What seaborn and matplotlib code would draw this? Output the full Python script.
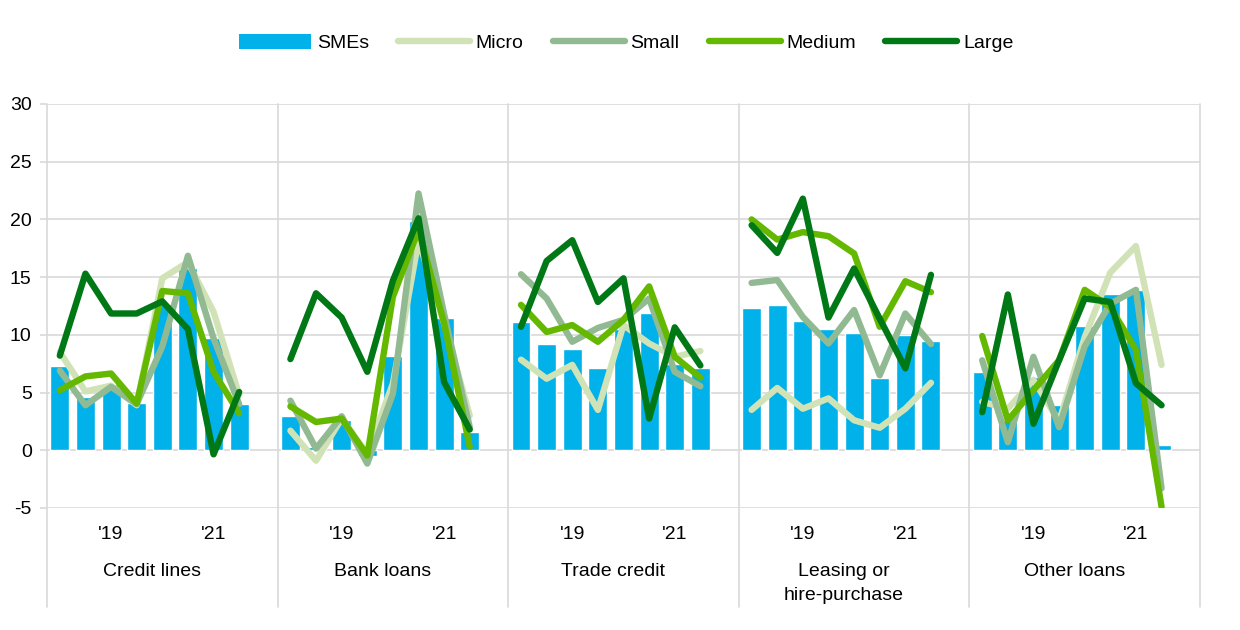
import numpy as np
import pandas as pd
import matplotlib
matplotlib.use("Agg")
import matplotlib.pyplot as plt
import seaborn as sns
from matplotlib.patches import Patch
from matplotlib.lines import Line2D
from matplotlib.transforms import blended_transform_factory

# ---------------- data ----------------
panels = ["Credit lines", "Bank loans", "Trade credit", "Leasing or\nhire-purchase", "Other loans"]
period_labels = ["", "", "'19", "", "", "", "'21", ""]
sizes = ["Micro", "Small", "Medium", "Large"]

smes = [
    [7.3, 4.6, 5.7, 4.1, 12.7, 15.75, 9.7, 4.05],
    [2.95, 0.3, 2.65, -0.5, 8.15, 19.9, 11.5, 1.6],
    [11.1, 9.25, 8.75, 7.15, 10.5, 11.9, 7.5, 7.1],
    [12.35, 12.6, 11.2, 10.5, 10.2, 6.3, 10.0, 9.45],
    [6.75, 2.6, 6.35, 3.9, 10.75, 13.5, 13.9, 0.5],
]
micro = [
    [8.5, 5.1, 5.6, 3.9, 14.9, 16.3, 12.0, 4.8],
    [1.7, -0.9, 2.75, -0.3, 5.8, 18.2, 11.0, 3.0],
    [7.85, 6.2, 7.4, 3.5, 10.85, 9.25, 8.1, 8.6],
    [3.5, 5.4, 3.6, 4.5, 2.6, 1.95, 3.6, 5.85],
    [4.2, 3.6, 6.1, 2.5, 9.8, 15.4, 17.7, 7.4],
]
small = [
    [6.9, 3.9, 5.5, 4.0, 9.0, 16.85, 9.7, 4.0],
    [4.3, 0.15, 2.95, -1.15, 4.9, 22.25, 11.8, 2.0],
    [15.25, 13.15, 9.4, 10.6, 11.3, 13.15, 6.8, 5.55],
    [14.5, 14.75, 11.55, 9.25, 12.15, 6.5, 11.85, 9.2],
    [7.8, 0.7, 8.1, 2.0, 9.0, 12.7, 13.9, -3.3],
]
medium = [
    [5.2, 6.4, 6.65, 4.05, 13.8, 13.6, 6.8, 3.2],
    [3.8, 2.45, 2.75, -0.45, 13.3, 19.1, 11.0, 0.3],
    [12.6, 10.25, 10.85, 9.4, 11.3, 14.2, 8.1, 6.3],
    [20.0, 18.25, 18.9, 18.55, 17.05, 10.7, 14.65, 13.7],
    [9.9, 2.6, 5.2, 7.8, 13.9, 12.4, 8.7, -4.9],
]
large = [
    [8.2, 15.3, 11.85, 11.85, 12.9, 10.5, -0.35, 5.05],
    [7.9, 13.6, 11.5, 6.8, 14.7, 20.1, 5.9, 1.8],
    [10.7, 16.4, 18.2, 12.85, 14.9, 2.75, 10.65, 7.35],
    [19.5, 17.1, 21.8, 11.5, 15.75, 11.4, 7.1, 15.2],
    [3.3, 13.5, 2.3, 7.8, 13.15, 12.85, 5.8, 3.9],
]

colors = {"SMEs": "#00B1EA", "Micro": "#D1E3B6", "Small": "#92BA92",
          "Medium": "#65B800", "Large": "#007816"}

# ---------------- build frames ----------------
n_per = len(period_labels)
slot = n_per + 1
bar_rows, line_rows = [], []
series = {"Micro": micro, "Small": small, "Medium": medium, "Large": large}
for g in range(len(panels)):
    for i in range(n_per):
        pos = g * slot + i + 0.5
        bar_rows.append({"pos": pos, "SMEs": smes[g][i]})
        for s in sizes:
            line_rows.append({"pos": pos, "value": series[s][g][i], "size": s, "panel": g})
bars_df = pd.DataFrame(bar_rows)
lines_df = pd.DataFrame(line_rows)

# ---------------- plot ----------------
sns.set_theme(style="white")
plt.rcParams["font.family"] = ["Liberation Sans", "DejaVu Sans"]
plt.rcParams["text.color"] = "black"
plt.rcParams["xtick.color"] = "black"
plt.rcParams["ytick.color"] = "black"
FS = 14

fig = plt.figure(figsize=(12.4, 6.3), dpi=100)
ax = fig.add_axes([47 / 1240, 1 - 508 / 630, (1200 - 47) / 1240, (508 - 104) / 630])

grid_c = "#D9D9D9"
sns.barplot(data=bars_df, x="pos", y="SMEs", native_scale=True, color=colors["SMEs"],
            width=0.74, errorbar=None, ax=ax, saturation=1, zorder=2)
sns.lineplot(data=lines_df, x="pos", y="value", hue="size", units="panel", estimator=None,
             hue_order=sizes, palette=colors, linewidth=4.6, legend=False, sort=False, ax=ax,
             solid_joinstyle="round", solid_capstyle="round", zorder=3)

ax.set_xlim(0, len(panels) * slot)
ax.set_ylim(-5, 30)
ax.set_yticks(np.arange(-5, 31, 5))
ax.set_yticklabels([str(v) for v in range(-5, 31, 5)], fontsize=FS, color="black")
ax.yaxis.grid(True, color=grid_c, linewidth=1.2, zorder=0)
ax.set_axisbelow(True)
for sp in ax.spines.values():
    sp.set_visible(False)
ax.tick_params(axis="y", length=5, width=1.2, color=grid_c, labelcolor="black", pad=6, left=True)

tick_pos, tick_lab = [], []
for g in range(len(panels)):
    for i, lab in enumerate(period_labels):
        if lab:
            tick_pos.append(g * slot + i + 0.5)
            tick_lab.append(lab)
ax.set_xticks(tick_pos)
ax.set_xticklabels(tick_lab, fontsize=FS, color="black")
ax.tick_params(axis="x", length=0, pad=13, labelcolor="black")
ax.set_xlabel("")
ax.set_ylabel("")

# panel separators
for g in range(len(panels) + 1):
    ax.axvline(g * slot, ymin=-99 / 404, ymax=1, color=grid_c, linewidth=1.2,
               clip_on=False, zorder=1)

trans = blended_transform_factory(ax.transData, ax.transAxes)
for g, name in enumerate(panels):
    ax.text(g * slot + n_per / 2 + 0.1, -(563 - 508) / 404, name, transform=trans,
            ha="center", va="top", fontsize=FS, linespacing=1.5, color="black")

handles = [Patch(facecolor=colors["SMEs"], edgecolor="none", label="SMEs")]
for s in sizes:
    handles.append(Line2D([0], [0], color=colors[s], linewidth=4.6, solid_capstyle="round", label=s))
leg = fig.legend(handles=handles, loc="center", bbox_to_anchor=(0.505, 1 - 43 / 630), ncol=5,
                 frameon=False, fontsize=FS, handlelength=3.7, handleheight=0.8,
                 columnspacing=1.5, handletextpad=0.3)
for t in leg.get_texts():
    t.set_color("black")

fig.savefig("out.png", dpi=100)
